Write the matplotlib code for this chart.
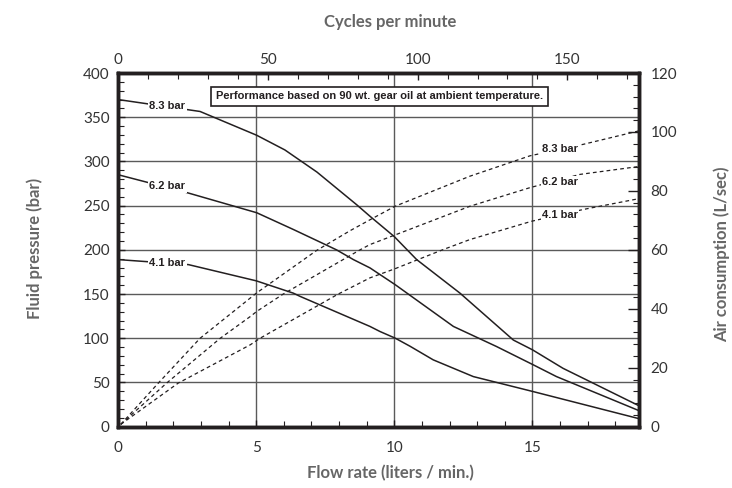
import numpy as np
import matplotlib.pyplot as plt
from matplotlib.ticker import MultipleLocator

# fluid pressure curves (flow rate L/min -> bar)
flow_p83 = [0, 2.97, 5.02, 6.04, 7.2, 8.64, 9.12, 10.0, 10.81, 12.38, 14.31, 15.0, 16.11, 18.87]
pres_p83 = [370, 356.5, 329.6, 313, 288, 251, 238, 215, 189, 151, 98, 87, 66, 23.5]
flow_p62 = [0, 2.51, 5.02, 6.35, 7.91, 8.52, 9.12, 10.03, 12.14, 13.7, 15.03, 15.87, 18.87]
pres_p62 = [285, 264.6, 242, 223, 200, 189, 179.6, 160.7, 113.4, 90.7, 70, 56.7, 18]
flow_p41 = [0, 2.55, 5.0, 6.35, 6.59, 9.12, 9.48, 10.03, 10.57, 11.41, 12.86, 15.03, 18.87]
pres_p41 = [189, 183.3, 165, 151, 147.4, 113.4, 107.7, 100.2, 91, 75.6, 56.7, 39.7, 9]

# air consumption curves (flow rate L/min -> L/sec)
flow_a83 = [0.1, 1.46, 2.97, 5.02, 7.19, 8.4, 9.12, 10.03, 12.74, 14.91, 16.84, 18.87]
air_a83 = [0.8, 14.8, 30, 45.4, 59.8, 66.5, 70.2, 74.8, 85, 91.9, 95.8, 100.4]
flow_a62 = [0.1, 1.76, 3.7, 4.79, 5.02, 5.98, 8.76, 9.12, 10.57, 12.74, 14.91, 16.72, 18.87]
air_a62 = [0.8, 14.8, 30, 37.4, 39.1, 45, 60, 61.8, 67, 74.8, 81.1, 85.6, 88.3]
flow_a41 = [0.1, 2.18, 4.79, 5.14, 7.97, 9.12, 10.0, 11.77, 12.74, 14.97, 16.84, 18.87]
air_a41 = [0.8, 14.8, 27.8, 30, 45, 50.5, 53.5, 60.1, 63.5, 69.7, 73.7, 77.4]

labels = ['8.3 bar', '6.2 bar', '4.1 bar']
note = 'Performance based on 90 wt. gear oil at ambient temperature.'

ink = '#231f20'
tick_col = '#333333'
lab_col = '#666666'
narrow = ['Liberation Sans', 'DejaVu Sans']
plt.rcParams['font.family'] = ['Lato', 'DejaVu Sans']

fig = plt.figure(figsize=(7.32, 4.88), dpi=100)
ax = fig.add_axes([0.1612, 0.1256, 0.7122, 0.7248])
ax.set_xlim(0, 18.87)
ax.set_ylim(0, 400)
ax.xaxis.set_major_locator(MultipleLocator(5))
ax.xaxis.set_minor_locator(MultipleLocator(1))
ax.yaxis.set_major_locator(MultipleLocator(50))
ax.yaxis.set_minor_locator(MultipleLocator(10))
ax.grid(True, which='major', color='#5a5a5a', lw=1.0, zorder=0)
ax.set_axisbelow(True)
ax.tick_params(which='both', direction='in', color=ink, labelcolor=tick_col, labelsize=11)
ax.tick_params(which='major', length=5, width=1, pad=6)
ax.tick_params(axis='x', which='major', pad=10)
ax.tick_params(which='minor', length=4, width=0.8)

# solid pressure curves
for fx, py in [(flow_p83, pres_p83), (flow_p62, pres_p62), (flow_p41, pres_p41)]:
    ax.plot(fx, py, color=ink, lw=1.1, zorder=3)

# dashed air curves on right axis
ax2 = ax.twinx()
ax2.set_ylim(0, 120)
ax2.yaxis.set_major_locator(MultipleLocator(20))
ax2.yaxis.set_minor_locator(MultipleLocator(4))
ax2.tick_params(which='both', direction='in', color=ink, labelcolor=tick_col, labelsize=11)
ax2.tick_params(which='major', length=8, width=1, pad=8)
ax2.tick_params(which='minor', length=4, width=0.8)
for fx, ay in [(flow_a83, air_a83), (flow_a62, air_a62), (flow_a41, air_a41)]:
    ax2.plot(fx, ay, color=ink, lw=0.9, ls=(0, (3, 2.5)), zorder=3)

# top axis: cycles per minute
ax3 = ax.twiny()
ax3.set_xlim(0, 174)
ax3.xaxis.set_major_locator(MultipleLocator(50))
ax3.xaxis.set_minor_locator(MultipleLocator(10))
ax3.tick_params(which='both', direction='in', color=ink, labelcolor=tick_col, labelsize=11)
ax3.tick_params(which='major', length=5, width=1, pad=4)
ax3.tick_params(which='minor', length=4, width=0.8)

for a in (ax, ax2, ax3):
    for s in a.spines.values():
        s.set_linewidth(2.4)
        s.set_color(ink)

# curve labels
lab_box = dict(facecolor='white', edgecolor='none', pad=1.0)
for y, t in zip([363, 272, 185], labels):
    ax.text(1.78, y, t, family=narrow, fontweight='bold', fontsize=8, color=ink,
            ha='center', va='center', bbox=lab_box, zorder=5)
for y, t in zip([94.1, 83.0, 71.7], labels):
    ax2.text(16.0, y, t, family=narrow, fontweight='bold', fontsize=8, color=ink,
             ha='center', va='center', bbox=lab_box, zorder=5)

ax.text(9.48, 373.5, note, family=narrow, fontweight='bold', fontsize=8, color=ink,
        ha='center', va='center', zorder=5,
        bbox=dict(facecolor='white', edgecolor=ink, lw=1.2, pad=3.5))

lab_kw = dict(fontsize=12, fontweight='bold', color=lab_col, ha='center', va='center')
fig.text(0.5328, 0.0307, 'Flow rate (liters / min.)', **lab_kw)
fig.text(0.5328, 0.9549, 'Cycles per minute', **lab_kw)
fig.text(0.0478, 0.4918, 'Fluid pressure (bar)', rotation=90, **lab_kw)
fig.text(0.9863, 0.48, 'Air consumption (L/sec)', rotation=90, **lab_kw)

fig.savefig('out.png', dpi=100)
